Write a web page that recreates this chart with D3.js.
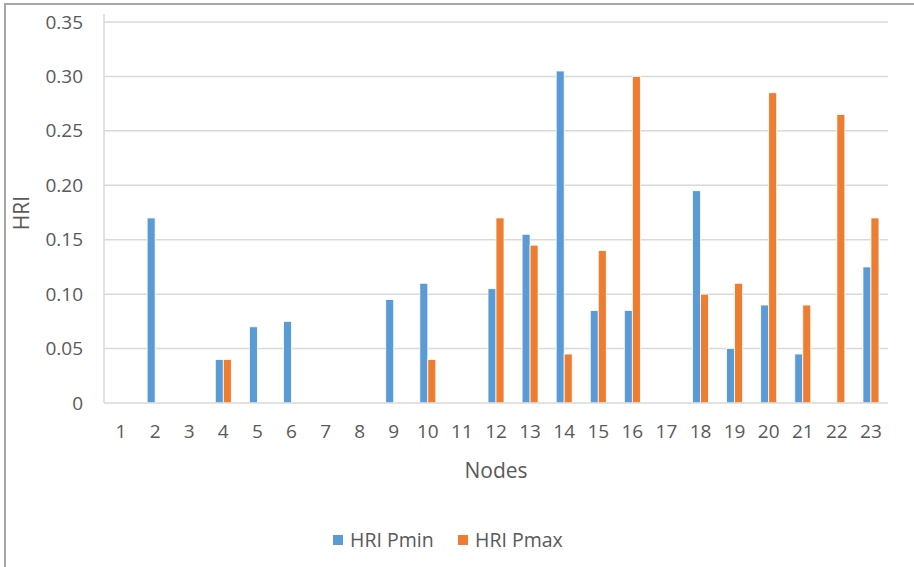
<!DOCTYPE html>
<html>
<head>
<meta charset="utf-8">
<script src="https://cdn.jsdelivr.net/npm/d3@7"></script>
<style>
  html, body { margin: 0; padding: 0; background: #fff; }
  svg { display: block; font-family: "Open Sans", "Liberation Sans", sans-serif; }
</style>
</head>
<body>
<svg id="chart" width="914" height="567"></svg>
<script>
// Harmonic resonance index per node, at minimum and maximum load
const nodes = ["1","2","3","4","5","6","7","8","9","10","11","12","13","14","15","16","17","18","19","20","21","22","23"];
const hriPmin = [0, 0.170, 0, 0.040, 0.070, 0.075, 0, 0, 0.095, 0.110, 0, 0.105, 0.155, 0.305, 0.085, 0.085, 0, 0.195, 0.050, 0.090, 0.045, 0, 0.125];
const hriPmax = [0, 0, 0, 0.040, 0, 0, 0, 0, 0, 0.040, 0, 0.170, 0.145, 0.045, 0.140, 0.300, 0, 0.100, 0.110, 0.285, 0.090, 0.265, 0.170];
const seriesNames = ["HRI Pmin", "HRI Pmax"];
const yTicks = [0, 0.05, 0.10, 0.15, 0.20, 0.25, 0.30, 0.35];

const colors = ["#5b9bd5", "#ed7d31"];
const textColor = "#595959";

const svg = d3.select("#chart");

// outer frame of the chart
svg.append("path")
  .attr("d", "M5,567 V4 H914")
  .attr("fill", "none")
  .attr("stroke", "#a6a6a6")
  .attr("stroke-width", 2);

const plot = { left: 104, right: 888, top: 22, bottom: 403 };

const x = d3.scaleBand()
  .domain(nodes)
  .range([plot.left, plot.right])
  .paddingInner(0.53)
  .paddingOuter(0.265);

const xs = d3.scaleBand()
  .domain(seriesNames)
  .range([0, x.bandwidth()])
  .padding(0);

const y = d3.scaleLinear()
  .domain([0, 0.35])
  .range([plot.bottom, plot.top]);

// horizontal gridlines
svg.append("g")
  .selectAll("line")
  .data(yTicks.filter(t => t > 0))
  .join("line")
  .attr("x1", plot.left)
  .attr("x2", plot.right)
  .attr("y1", d => y(d))
  .attr("y2", d => y(d))
  .attr("stroke", "#d9d9d9")
  .attr("stroke-width", 1.5);

// vertical axis line
svg.append("line")
  .attr("x1", plot.left).attr("x2", plot.left)
  .attr("y1", 14).attr("y2", plot.bottom)
  .attr("stroke", "#d9d9d9")
  .attr("stroke-width", 1.5);

// y axis labels
const yAxis = d3.axisLeft(y)
  .tickValues(yTicks)
  .tickSize(0)
  .tickPadding(21)
  .tickFormat(d => d === 0 ? "0" : d3.format(".2f")(d));

svg.append("g")
  .attr("transform", `translate(${plot.left},0)`)
  .call(yAxis)
  .call(g => g.select(".domain").remove())
  .call(g => g.selectAll("text")
    .attr("fill", textColor)
    .style("font-size", "19px")
    .style("font-family", "'Open Sans', sans-serif"));

// bars
const data = nodes.map((n, i) => ({ node: n, values: [hriPmin[i], hriPmax[i]] }));

const groups = svg.append("g")
  .selectAll("g")
  .data(data)
  .join("g")
  .attr("transform", d => `translate(${x(d.node)},0)`);

groups.selectAll("rect")
  .data(d => d.values.map((v, k) => ({ key: seriesNames[k], k, v })).filter(e => e.v > 0))
  .join("rect")
  .attr("x", e => xs(e.key))
  .attr("width", xs.bandwidth())
  .attr("y", e => y(e.v))
  .attr("height", e => y(0) - y(e.v))
  .attr("fill", e => colors[e.k])
  .attr("stroke", "#fff")
  .attr("stroke-width", 0.8);

// baseline
svg.append("line")
  .attr("x1", plot.left).attr("x2", plot.right)
  .attr("y1", plot.bottom).attr("y2", plot.bottom)
  .attr("stroke", "#d9d9d9")
  .attr("stroke-width", 1.5);

// x axis labels
const xAxis = d3.axisBottom(x).tickSize(0).tickPadding(22);
svg.append("g")
  .attr("transform", `translate(0,${plot.bottom})`)
  .call(xAxis)
  .call(g => g.select(".domain").remove())
  .call(g => g.selectAll("text")
    .attr("fill", textColor)
    .style("font-size", "19px")
    .style("font-family", "'Open Sans', sans-serif"));

// axis titles
svg.append("text")
  .attr("x", 496)
  .attr("y", 478)
  .attr("text-anchor", "middle")
  .attr("fill", textColor)
  .style("font-size", "21px")
  .text("Nodes");

svg.append("text")
  .attr("transform", "translate(29,213) rotate(-90)")
  .attr("text-anchor", "middle")
  .attr("fill", textColor)
  .style("font-size", "21px")
  .text("HRI");

// legend
const legendItems = [
  { name: seriesNames[0], color: colors[0], x: 333 },
  { name: seriesNames[1], color: colors[1], x: 458 }
];
const legend = svg.append("g")
  .selectAll("g")
  .data(legendItems)
  .join("g")
  .attr("transform", d => `translate(${d.x},540)`);

legend.append("rect")
  .attr("x", 0).attr("y", -5)
  .attr("width", 10).attr("height", 10)
  .attr("fill", d => d.color);

legend.append("text")
  .attr("x", 17)
  .attr("y", 7)
  .attr("fill", textColor)
  .style("font-size", "19.5px")
  .text(d => d.name);
</script>
</body>
</html>
